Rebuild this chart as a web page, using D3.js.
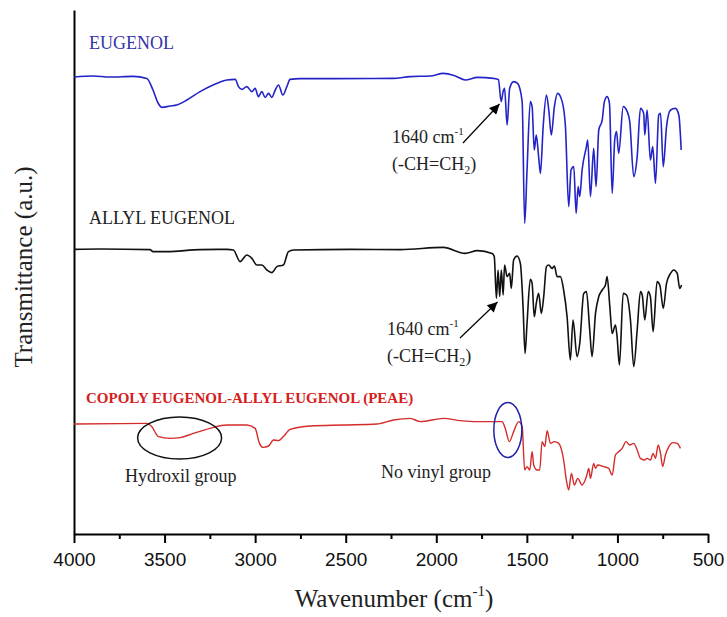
<!DOCTYPE html>
<html>
<head>
<meta charset="utf-8">
<script src="https://cdn.jsdelivr.net/npm/d3@7"></script>
<style>
  body { margin: 0; background: #fff; }
  svg { display: block; }
</style>
</head>
<body>
<script>
// FTIR spectra, values (transmittance in a.u.)
var xTicks = [4000, 3500, 3000, 2500, 2000, 1500, 1000, 500];
var xMinor = [3750, 3250, 2750, 2250, 1750, 1250, 750];

var eugenolWn = [4000,3895,3801,3674,3598,3564,3536,3515,3470,3433,3377,3304,3232,3156,3110,3092,3073,3046,3018,3000,
  2982,2963,2945,2926,2908,2889,2871,2847,2825,2807,2751,2569,2238,2144,2033,1961,1895,1840,1773,1685,
  1657,1642,1631,1623,1609,1595,1573,1551,1526,1512,1499,1481,1471,1459,1448,1435,1425,1410,1392,1379,
  1365,1348,1330,1305,1287,1269,1256,1241,1228,1217,1208,1195,1171,1164,1149,1131,1118,1103,1084,1072,
  1057,1044,1029,1015,1005,993,968,946,932,910,891,873,855,849,836,818,805,790,772,762,
  747,729,707,680,661,648];
var eugenolT = [228.5,229,228.5,228.8,227.8,222,215.5,213.3,214,214.5,217,221.2,224.5,227,227.3,223.7,222.3,223.7,221.2,222.8,
  218.7,221.2,218.3,220.3,218.3,222,224.5,219.5,223.7,227.3,227.7,227.7,227.8,228.7,229,230.3,229,227,228.3,227.8,
  227.3,216.2,221.2,222.8,204.5,222.8,226.2,225.3,216.2,155.3,182,216.2,213.7,192,199.5,188.7,180.3,203.7,219.5,212,
  199.5,213.7,220.3,216.2,203.7,163.7,182,183.7,160.3,173.7,168.7,182,193.7,197,168.7,192.8,173.7,202,207,216.2,
  218.7,215.3,170.3,197,201.2,190.3,213.7,211.2,206.2,178.7,188.7,212.8,210.3,199.5,212,187,193.7,175.3,209.5,210.3,
  183.7,203.7,212,212.8,209.5,192];

var allylWn = [4000,3856,3580,3564,3486,3304,3156,3120,3083,3046,3018,2991,2963,2935,2908,2880,2844,2816,2788,2475,
  2199,1961,1840,1773,1692,1680,1668,1659,1650,1641,1631,1623,1609,1595,1586,1573,1554,1536,1521,1510,
  1499,1481,1471,1459,1448,1435,1420,1407,1392,1379,1361,1348,1333,1315,1297,1278,1260,1245,1223,1208,
  1186,1171,1153,1140,1121,1103,1084,1066,1057,1042,1029,1011,1002,989,968,950,928,910,891,873,
  863,849,830,818,803,781,766,747,729,707,689,670,656,646];
var allylT = [142.3,142.5,142.2,141.2,141.2,142.2,142.3,142,136.2,139.5,137.8,134.5,134.5,132,130.7,133.7,134.5,141.2,142,142.3,
  142.2,143.3,140.3,141.7,140.3,138.7,117.8,132,118.7,132,119.5,134.5,128.7,130.3,122.8,137,139,135.3,113.7,90.3,
  105.3,127.3,125.3,108.7,115.3,120.3,110.3,118.7,133.7,134.5,132.8,134,128.7,128.7,122,108.7,87,107,88.7,95.3,
  120.3,121.2,102,88.7,110.3,118.7,122,124.5,128.7,113.7,100.3,104.5,98.7,84.5,120.3,119.5,107,83.7,102,121.2,
  119.5,107,121.2,118.7,101.2,126.2,124.5,112.8,125.3,130.3,132,130.3,122.8,124.5];

var peaeWn = [4000,3746,3598,3571,3534,3470,3414,3341,3249,3156,3046,3000,2976,2957,2926,2899,2871,2844,2807,2696,
  2514,2328,2236,2144,2088,1960,1867,1775,1637,1619,1597,1573,1545,1526,1512,1499,1484,1471,1462,1444,
  1429,1416,1401,1388,1370,1348,1324,1297,1282,1269,1254,1238,1219,1195,1171,1158,1149,1131,1121,1109,
  1076,1048,1029,1011,992,974,952,932,910,891,873,851,836,818,803,790,775,762,750,735,
  716,692,670,652];
var peaeT = [55,55.2,55.3,53.7,48.7,47.8,48.2,50.3,52.8,54.5,54.5,52.8,45.3,43.3,44,47,46.7,48.7,52.3,54,
  54.5,55,57,57.8,56.2,57.8,56.7,56.2,56.2,52.8,46.2,51.2,56.2,53.7,32,33.7,32,41.2,34.5,32,
  32,46.2,43.7,51.7,45.3,46.2,45.3,37,27,22,30.3,24.5,27.8,24.5,28.7,32.8,27.8,35.3,32.8,34.5,
  33.7,32.8,29.5,39.5,41.2,42.8,46.2,44.5,45.3,42,37.8,37,37.8,37,40.3,37.8,44.5,40.3,33.7,39.5,
  43.7,45.7,45.3,42.8];

var W = 727, H = 617;
var svg = d3.select("body").append("svg")
  .attr("width", W).attr("height", H)
  .style("background", "#fff");

var x = d3.scaleLinear().domain([4000, 500]).range([74, 708]);
var y = d3.scaleLinear().domain([0, 262]).range([534, 10]);

var serif = "'Liberation Serif', 'Times New Roman', serif";
var sans = "'Liberation Sans', Arial, sans-serif";

// arrow marker
svg.append("defs").append("marker")
  .attr("id", "arr")
  .attr("viewBox", "0 0 10 10")
  .attr("refX", 10).attr("refY", 5)
  .attr("markerWidth", 14).attr("markerHeight", 10)
  .attr("markerUnits", "userSpaceOnUse")
  .attr("orient", "auto")
  .append("path").attr("d", "M0,0 L10,5 L0,10 z").attr("fill", "#000");

// x axis
var xAxis = svg.append("g")
  .attr("transform", "translate(0,534)")
  .call(d3.axisBottom(x).tickValues(xTicks).tickSize(9).tickSizeOuter(0).tickPadding(10)
    .tickFormat(d3.format("d")));
xAxis.selectAll("path, line").attr("stroke", "#000").attr("stroke-width", 2);
xAxis.selectAll("text").attr("font-family", sans).attr("font-size", 19).attr("fill", "#111");

var xMin = svg.append("g")
  .attr("transform", "translate(0,534)")
  .call(d3.axisBottom(x).tickValues(xMinor).tickSize(5).tickFormat(""));
xMin.select(".domain").remove();
xMin.selectAll("line").attr("stroke", "#000").attr("stroke-width", 2);

// y axis: plain line
var yAxis = svg.append("g")
  .attr("transform", "translate(74,0)")
  .call(d3.axisLeft(y).tickValues([]).tickSizeOuter(0));
yAxis.select(".domain").attr("stroke", "#000").attr("stroke-width", 2);

// traces
var line = d3.line()
  .x(function(d) { return x(d[0]); })
  .y(function(d) { return y(d[1]); })
  .curve(d3.curveMonotoneX);

function trace(wn, t, color, w) {
  svg.append("path")
    .datum(d3.zip(wn, t))
    .attr("fill", "none")
    .attr("stroke", color)
    .attr("stroke-width", w)
    .attr("stroke-linejoin", "round")
    .attr("d", line);
}
trace(eugenolWn, eugenolT, "#2323c8", 1.6);
trace(allylWn, allylT, "#111", 1.6);
trace(peaeWn, peaeT, "#d42b2b", 1.4);

// series labels
svg.append("text").attr("x", 89).attr("y", 49)
  .attr("font-family", serif).attr("font-size", 18).attr("fill", "#3434a8")
  .text("EUGENOL");
svg.append("text").attr("x", 89).attr("y", 224)
  .attr("font-family", serif).attr("font-size", 18).attr("fill", "#222")
  .text("ALLYL EUGENOL");
svg.append("text").attr("x", 86).attr("y", 403)
  .attr("font-family", serif).attr("font-size", 15).attr("font-weight", "bold").attr("fill", "#d42020")
  .text("COPOLY EUGENOL-ALLYL EUGENOL (PEAE)");

// 1640 annotations
function vinyl(tx, ty, x1, y1, x2, y2) {
  var t = svg.append("text").attr("x", tx).attr("y", ty)
    .attr("font-family", serif).attr("font-size", 18).attr("fill", "#222");
  t.append("tspan").text("1640 cm");
  t.append("tspan").attr("font-size", 11).attr("dy", -8).text("-1");
  var t2 = svg.append("text").attr("x", tx).attr("y", ty + 27)
    .attr("font-family", serif).attr("font-size", 18).attr("fill", "#222");
  t2.append("tspan").text("(-CH=CH");
  t2.append("tspan").attr("font-size", 12).attr("dy", 4).text("2");
  t2.append("tspan").attr("dy", -4).text(")");
  svg.append("line")
    .attr("x1", x1).attr("y1", y1).attr("x2", x2).attr("y2", y2)
    .attr("stroke", "#000").attr("stroke-width", 1.2)
    .attr("marker-end", "url(#arr)");
}
vinyl(392, 143, 463, 143, x(1640) - 2, y(215));
vinyl(387, 335, 460, 338, x(1640) - 4, y(116));

// ellipses
svg.append("ellipse")
  .attr("cx", x(3417)).attr("cy", y(48)).attr("rx", 42).attr("ry", 21)
  .attr("fill", "none").attr("stroke", "#111").attr("stroke-width", 1.5);
svg.append("ellipse")
  .attr("cx", x(1605)).attr("cy", y(52)).attr("rx", 14).attr("ry", 27.5)
  .attr("fill", "none").attr("stroke", "#2020a8").attr("stroke-width", 1.5);

svg.append("text").attr("x", 125).attr("y", 482)
  .attr("font-family", serif).attr("font-size", 18).attr("fill", "#222")
  .text("Hydroxil group");
svg.append("text").attr("x", 381).attr("y", 478)
  .attr("font-family", serif).attr("font-size", 18).attr("fill", "#222")
  .text("No vinyl group");

// axis titles
var xt = svg.append("text").attr("x", 394).attr("y", 607)
  .attr("text-anchor", "middle")
  .attr("font-family", serif).attr("font-size", 25).attr("fill", "#222");
xt.append("tspan").text("Wavenumber (cm");
xt.append("tspan").attr("font-size", 15).attr("dy", -11).text("-1");
xt.append("tspan").attr("dy", 11).text(")");

svg.append("text")
  .attr("transform", "translate(32,267) rotate(-90)")
  .attr("text-anchor", "middle")
  .attr("font-family", serif).attr("font-size", 25).attr("fill", "#222")
  .text("Transmittance (a.u.)");
</script>
</body>
</html>
